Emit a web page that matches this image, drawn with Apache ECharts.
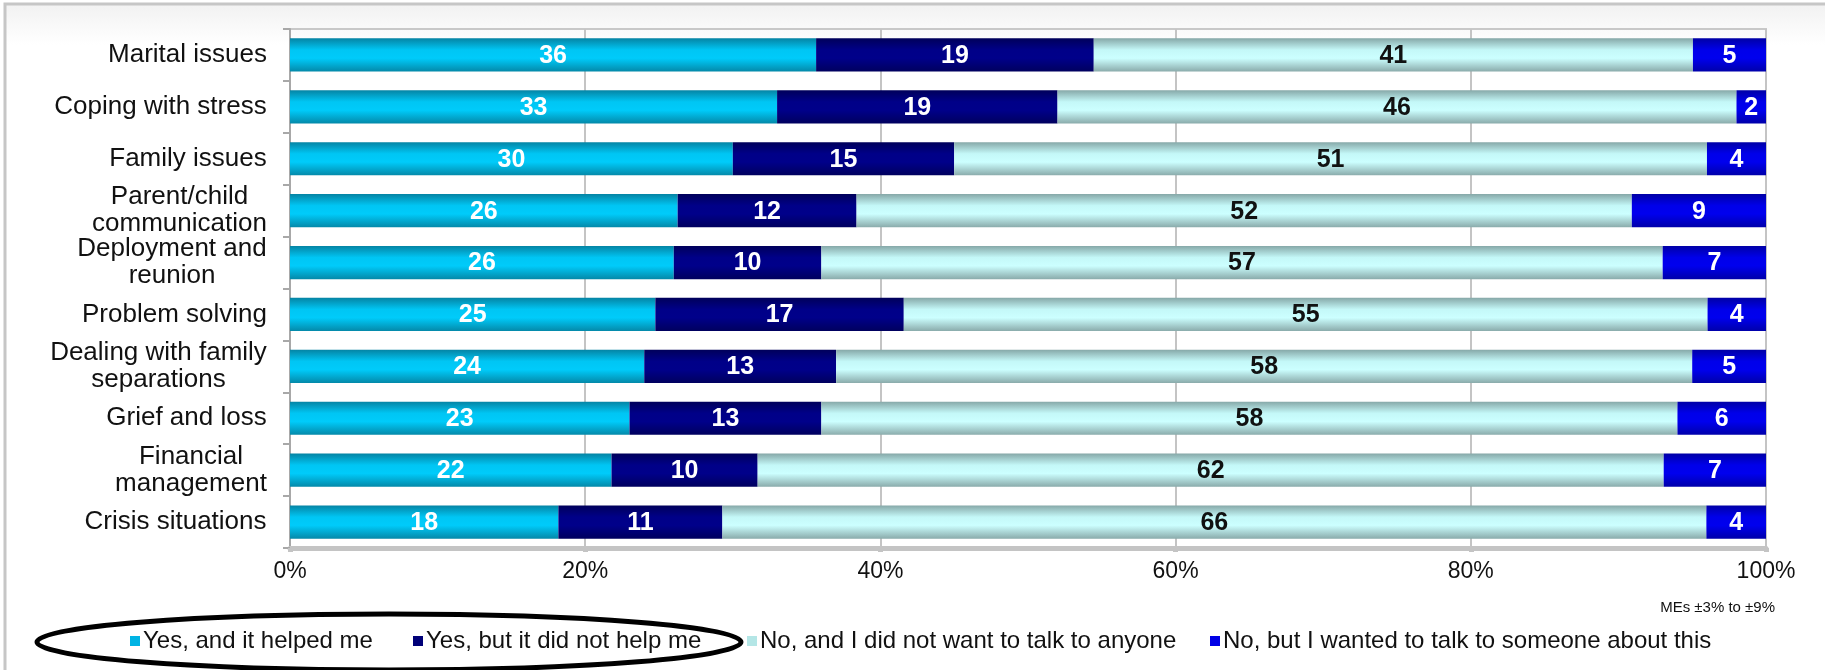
<!DOCTYPE html>
<html>
<head>
<meta charset="utf-8">
<title>Talking to someone about issues</title>
<script src="https://cdn.jsdelivr.net/npm/echarts@6/dist/echarts.min.js"></script>
<style>
  html, body { margin: 0; padding: 0; background: #ffffff; }
  #chart { width: 1825px; height: 670px; }
</style>
</head>
<body>
<div id="chart"></div>
<script>
// Topics, listed top to bottom
const categories = [
  'Marital issues',
  'Coping with stress',
  'Family issues',
  'Parent/child\ncommunication',
  'Deployment and\nreunion',
  'Problem solving',
  'Dealing with family\nseparations',
  'Grief and loss',
  'Financial\nmanagement',
  'Crisis situations'
];

// Response percentages per topic
const helped    = [36, 33, 30, 26, 26, 25, 24, 23, 22, 18];
const notHelped = [19, 19, 15, 12, 10, 17, 13, 13, 10, 11];
const noWant    = [41, 46, 51, 52, 57, 55, 58, 58, 62, 66];
const wanted    = [5, 2, 4, 9, 7, 4, 5, 6, 7, 4];

const seriesNames = [
  'Yes, and it helped me',
  'Yes, but it did not help me',
  'No, and I did not want to talk to anyone',
  'No, but I wanted to talk to someone about this'
];

const xTicks = [0, 20, 40, 60, 80, 100];
const noteText = 'MEs \u00b13% to \u00b19%';

const FONT = '"Liberation Sans", Arial, sans-serif';
const CAT_SIZE = 26;

// 100% stacked: each row is scaled by its own total, labels keep the reported value
const rows = [helped, notHelped, noWant, wanted];
const totals = categories.map((_, i) => rows.reduce((s, r) => s + r[i], 0));
const shares = rows.map(r => r.map((v, i) => v / totals[i] * 100));

function vGrad(edgeTop, mid1, mid2, edgeBottom) {
  return new echarts.graphic.LinearGradient(0, 0, 0, 1, [
    { offset: 0, color: edgeTop },
    { offset: 0.35, color: mid1 },
    { offset: 0.6, color: mid2 },
    { offset: 1, color: edgeBottom }
  ]);
}

const fills = [
  vGrad('#0584a4', '#00c6f4', '#00cbfa', '#0489a9'),
  vGrad('#00005a', '#000088', '#00008a', '#00005e'),
  vGrad('#86a8a8', '#c4f8f8', '#ccffff', '#8aabab'),
  vGrad('#0000a6', '#0000ea', '#0000ee', '#0000aa')
];
const legendColors = ['#00b4e4', '#000078', '#b4e6e6', '#0000e6'];
const labelColors = ['#ffffff', '#ffffff', '#111111', '#ffffff'];

// Multi-line topic names are centred line by line inside a right-aligned block
const measureCtx = document.createElement('canvas').getContext('2d');
measureCtx.font = CAT_SIZE + 'px ' + FONT;
const rich = {};
categories.forEach((c, i) => {
  const w = Math.max(...c.split('\n').map(s => measureCtx.measureText(s).width));
  rich['c' + i] = {
    width: Math.ceil(w) + 2,
    align: 'center',
    fontSize: CAT_SIZE,
    fontFamily: FONT,
    color: '#111111',
    lineHeight: 27
  };
});

const chart = echarts.init(document.getElementById('chart'), null, { renderer: 'canvas' });

const legendLefts = [130, 413, 747, 1210];

const option = {
  animation: false,
  backgroundColor: '#ffffff',
  graphic: [
    {
      type: 'rect',
      z: -10,
      silent: true,
      shape: { x: 5, y: 4, width: 1900, height: 700 },
      style: {
        fill: new echarts.graphic.LinearGradient(0, 0, 0, 1, [
          { offset: 0, color: '#f1f1f1' },
          { offset: 0.06, color: '#ffffff' },
          { offset: 1, color: '#ffffff' }
        ]),
        stroke: '#c6c6c6',
        lineWidth: 3
      }
    },
    {
      type: 'text',
      z: 10,
      silent: true,
      style: {
        text: noteText,
        x: 1775,
        y: 608,
        align: 'right',
        verticalAlign: 'middle',
        textAlign: 'right',
        textVerticalAlign: 'middle',
        font: '15px ' + FONT,
        fill: '#111111'
      }
    },
    {
      type: 'ellipse',
      z: 100,
      silent: true,
      shape: { cx: 389, cy: 642, rx: 352, ry: 28 },
      style: { fill: 'none', stroke: '#000000', lineWidth: 5 }
    }
  ],
  grid: {
    left: 290,
    right: 59,
    top: 29,
    bottom: 122,
    show: true,
    borderColor: '#c8c8c8',
    borderWidth: 2,
    backgroundColor: 'transparent'
  },
  legend: seriesNames.map((name, i) => ({
    show: true,
    left: legendLefts[i],
    top: 629,
    padding: 0,
    icon: 'rect',
    itemWidth: 10,
    itemHeight: 10,
    selectedMode: false,
    textStyle: { fontFamily: FONT, fontSize: 24, color: '#111111', padding: [0, 0, 0, -2] },
    data: [{ name: name, itemStyle: { color: legendColors[i] } }]
  })),
  xAxis: {
    type: 'value',
    min: 0,
    max: 100,
    interval: 20,
    axisLine: { show: true, lineStyle: { color: '#c4c4c4', width: 5 } },
    axisTick: { show: true, length: 4, lineStyle: { color: '#c4c4c4', width: 5 } },
    splitLine: { show: true, lineStyle: { color: '#c4c4c4', width: 2 } },
    axisLabel: {
      margin: 12,
      fontFamily: FONT,
      fontSize: 23,
      color: '#111111',
      formatter: v => (xTicks.indexOf(v) >= 0 ? v + '%' : '')
    }
  },
  yAxis: {
    type: 'category',
    inverse: true,
    data: categories,
    axisLine: { show: true, lineStyle: { color: '#a8a8a8', width: 2 } },
    axisTick: { show: true, length: 7, lineStyle: { color: '#a8a8a8', width: 2 } },
    splitLine: { show: false },
    axisLabel: {
      margin: 22,
      align: 'right',
      rich: rich,
      formatter: (val, idx) => val.split('\n').map(s => '{c' + idx + '|' + s + '}').join('\n')
    }
  },
  series: seriesNames.map((name, k) => ({
    name: name,
    type: 'bar',
    stack: 'all',
    barWidth: '64%',
    data: shares[k],
    itemStyle: { color: fills[k] },
    label: {
      show: true,
      position: 'inside',
      offset: [0, 1],
      fontFamily: FONT,
      fontSize: 25,
      fontWeight: 'bold',
      color: labelColors[k],
      formatter: p => String(rows[k][p.dataIndex])
    },
    emphasis: { disabled: true }
  }))
};

chart.setOption(option);
</script>
</body>
</html>
